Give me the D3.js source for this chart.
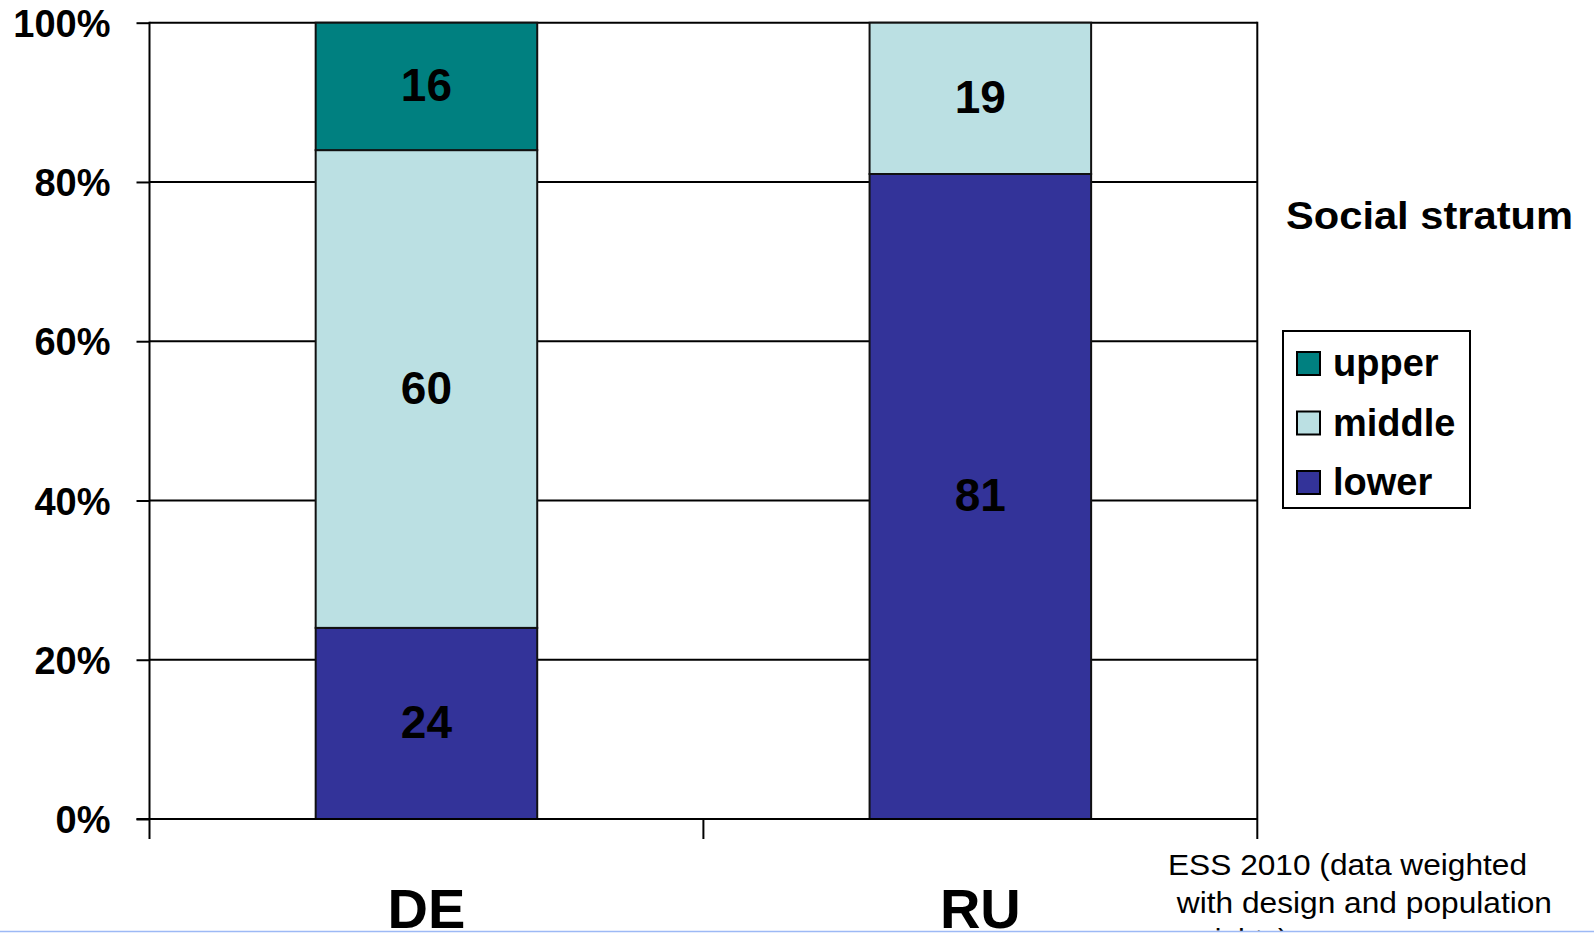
<!DOCTYPE html>
<html>
<head>
<meta charset="utf-8">
<script src="https://cdn.jsdelivr.net/npm/d3@7"></script>
<style>
  html, body { margin: 0; padding: 0; background: #fff; }
  svg { display: block; font-family: "Liberation Sans", Arial, sans-serif; }
</style>
</head>
<body>
<svg id="chart" width="1594" height="933"></svg>
<script>
// Countries on the x axis
const countries = ["DE", "RU"];
// Social strata, stacked bottom to top
const strata = ["lower", "middle", "upper"];
// Share of respondents per stratum (%)
const lowerValues  = [24, 81];
const middleValues = [60, 19];
const upperValues  = [16, 0];
// Y axis ticks
const yTicks = [0, 20, 40, 60, 80, 100];
// Legend entries, top to bottom
const legendItems = ["upper", "middle", "lower"];
const legendTitle = "Social stratum";
const sourceNote = ["ESS 2010 (data weighted", " with design and population", " weights)"];
const sourceNoteWidths = [359, 384, null];

const colors = { upper: "#008080", middle: "#BBE0E3", lower: "#333399" };

const rows = countries.map((c, i) => ({
  country: c,
  lower: lowerValues[i],
  middle: middleValues[i],
  upper: upperValues[i]
}));

const svg = d3.select("#chart");
const plotLeft = 149.5, plotRight = 1257.3, plotTop = 22.7, plotBottom = 819;

const x = d3.scaleBand().domain(countries).range([plotLeft, plotRight])
  .paddingInner(0.6).paddingOuter(0.3);
const y = d3.scaleLinear().domain([0, 100]).range([plotBottom, plotTop]);

// Horizontal gridlines
svg.append("g").selectAll("line").data(yTicks.filter(d => d > 0)).join("line")
  .attr("x1", plotLeft).attr("x2", plotRight)
  .attr("y1", d => y(d)).attr("y2", d => y(d))
  .attr("stroke", "#000").attr("stroke-width", 2);

// Right border of plot area
svg.append("line")
  .attr("x1", plotRight).attr("x2", plotRight).attr("y1", plotTop - 1).attr("y2", plotBottom + 20)
  .attr("stroke", "#000").attr("stroke-width", 2);

// Stacked bars
const stack = d3.stack().keys(strata)(rows);
const layers = svg.append("g").selectAll("g").data(stack).join("g")
  .attr("fill", d => colors[d.key]);
layers.selectAll("rect").data(d => d.filter(s => s[1] - s[0] > 0)).join("rect")
  .attr("x", d => x(d.data.country))
  .attr("width", x.bandwidth())
  .attr("y", d => y(d[1]))
  .attr("height", d => y(d[0]) - y(d[1]))
  .attr("stroke", "#111").attr("stroke-width", 2);

// Value labels
layers.selectAll("text").data(d => d.filter(s => s[1] - s[0] > 0)).join("text")
  .attr("x", d => x(d.data.country) + x.bandwidth() / 2)
  .attr("y", d => (y(d[0]) + y(d[1])) / 2 + 15)
  .attr("text-anchor", "middle")
  .attr("font-size", 46).attr("font-weight", "bold").attr("fill", "#000")
  .text(d => d[1] - d[0]);

// Y axis
const yAxis = svg.append("g").attr("transform", `translate(${plotLeft},0)`)
  .call(d3.axisLeft(y).tickValues(yTicks).tickFormat(d => d + "%")
    .tickSize(13).tickPadding(26));
yAxis.select(".domain").remove();
yAxis.selectAll(".tick line").attr("stroke", "#000").attr("stroke-width", 2);
yAxis.selectAll(".tick text")
  .attr("font-size", 38).attr("font-weight", "bold").attr("fill", "#000")
  .attr("font-family", "Liberation Sans, Arial, sans-serif")
  .attr("dy", "0.36em");
svg.append("line")
  .attr("x1", plotLeft).attr("x2", plotLeft).attr("y1", plotTop - 1).attr("y2", plotBottom + 20)
  .attr("stroke", "#000").attr("stroke-width", 2);

// X axis line and category separators
svg.append("line")
  .attr("x1", plotLeft - 13).attr("x2", plotRight).attr("y1", plotBottom).attr("y2", plotBottom)
  .attr("stroke", "#000").attr("stroke-width", 2);
const seps = d3.range(countries.length + 1)
  .map(i => plotLeft + i * (plotRight - plotLeft) / countries.length);
svg.append("g").selectAll("line").data(seps.slice(1, -1)).join("line")
  .attr("x1", d => d).attr("x2", d => d).attr("y1", plotBottom).attr("y2", plotBottom + 20)
  .attr("stroke", "#000").attr("stroke-width", 2);

// Category labels
svg.append("g").selectAll("text").data(countries).join("text")
  .attr("x", d => x(d) + x.bandwidth() / 2)
  .attr("y", 928)
  .attr("text-anchor", "middle")
  .attr("font-size", 56).attr("font-weight", "bold").attr("fill", "#000")
  .text(d => d);

// Legend title
svg.append("text")
  .attr("x", 1286).attr("y", 229)
  .attr("font-size", 38).attr("font-weight", "bold").attr("fill", "#000")
  .attr("textLength", 287).attr("lengthAdjust", "spacingAndGlyphs")
  .text(legendTitle);

// Legend box
svg.append("rect")
  .attr("x", 1283).attr("y", 331).attr("width", 187).attr("height", 177)
  .attr("fill", "#fff").attr("stroke", "#000").attr("stroke-width", 2);
const legend = svg.append("g").selectAll("g").data(legendItems).join("g")
  .attr("transform", (d, i) => `translate(1297,${352 + i * 59.5})`);
legend.append("rect")
  .attr("width", 23).attr("height", 23)
  .attr("fill", d => colors[d]).attr("stroke", "#000").attr("stroke-width", 2);
legend.append("text")
  .attr("x", 36).attr("y", 24)
  .attr("font-size", 38).attr("font-weight", "bold").attr("fill", "#000")
  .text(d => d);

// Source note
const note = svg.append("g").selectAll("text").data(sourceNote).join("text")
  .attr("x", 1168).attr("y", (d, i) => 875 + i * 37.5)
  .attr("font-size", 30).attr("fill", "#000")
  .attr("xml:space", "preserve")
  .style("white-space", "pre")
  .text(d => d);
note.filter((d, i) => sourceNoteWidths[i])
  .attr("textLength", d => sourceNoteWidths[sourceNote.indexOf(d)])
  .attr("lengthAdjust", "spacingAndGlyphs");

// Bottom edge band
svg.append("rect").attr("x", 0).attr("y", 931).attr("width", 1594).attr("height", 2).attr("fill", "#fff");
svg.append("line")
  .attr("x1", 0).attr("x2", 1594).attr("y1", 931.5).attr("y2", 931.5)
  .attr("stroke", "#9DB9F5").attr("stroke-width", 1.5);
</script>
</body>
</html>
